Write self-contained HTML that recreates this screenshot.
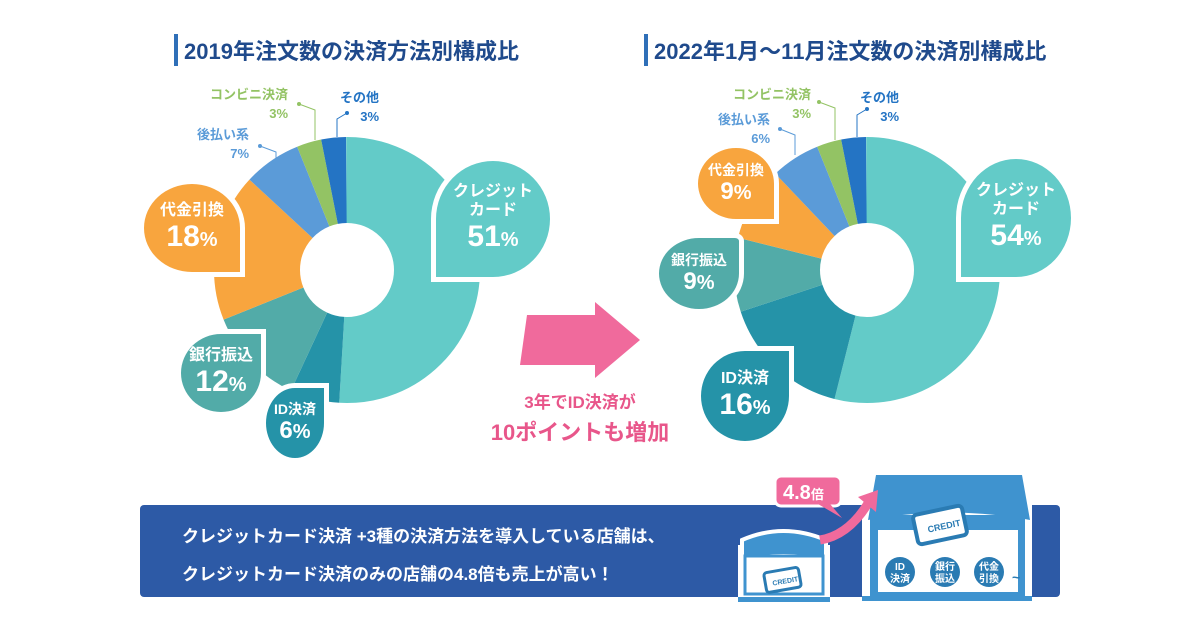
<!DOCTYPE html>
<html><head><meta charset="utf-8"><style>
body{margin:0;width:1200px;height:630px;background:#fff;position:relative;overflow:hidden;font-family:"Liberation Sans","Noto Sans CJK JP",sans-serif;}
.t{position:absolute;font-weight:bold;color:#1f4a8c;font-size:22px;white-space:nowrap;}
.b{position:absolute;border:5px solid #fff;color:#fff;font-weight:bold;text-align:center;box-sizing:border-box;display:flex;flex-direction:column;justify-content:center;align-items:center;line-height:1.15;}
.b .l{font-size:16px}
.b .n{font-size:30px}
.b .n small{font-size:20px}
.s{position:absolute;font-weight:bold;font-size:13px;text-align:right;white-space:nowrap;line-height:1.45}
</style></head><body>
<div class="t" style="left:174px;top:34px;border-left:4px solid #2f6fb8;padding-left:6px;">2019年注文数の決済方法別構成比</div>
<div class="t" style="left:644px;top:34px;border-left:4px solid #2f6fb8;padding-left:6px;">2022年1月～11月注文数の決済別構成比</div>

<svg width="1200" height="630" style="position:absolute;left:0;top:0">
<g transform="rotate(-90 347 270)" fill="none" stroke-width="86">
<circle cx="347" cy="270" r="90" pathLength="100" stroke="#63cbc8" stroke-dasharray="51 49" stroke-dashoffset="0"/>
<circle cx="347" cy="270" r="90" pathLength="100" stroke="#2593a8" stroke-dasharray="6 94" stroke-dashoffset="-51"/>
<circle cx="347" cy="270" r="90" pathLength="100" stroke="#52aba8" stroke-dasharray="12 88" stroke-dashoffset="-57"/>
<circle cx="347" cy="270" r="90" pathLength="100" stroke="#f8a53e" stroke-dasharray="18 82" stroke-dashoffset="-69"/>
<circle cx="347" cy="270" r="90" pathLength="100" stroke="#5b9bd8" stroke-dasharray="7 93" stroke-dashoffset="-87"/>
<circle cx="347" cy="270" r="90" pathLength="100" stroke="#93c364" stroke-dasharray="3 97" stroke-dashoffset="-94"/>
<circle cx="347" cy="270" r="90" pathLength="100" stroke="#2474c4" stroke-dasharray="3 97" stroke-dashoffset="-97"/>
</g>
<g transform="rotate(-90 867 270)" fill="none" stroke-width="86">
<circle cx="867" cy="270" r="90" pathLength="100" stroke="#63cbc8" stroke-dasharray="54 46" stroke-dashoffset="0"/>
<circle cx="867" cy="270" r="90" pathLength="100" stroke="#2593a8" stroke-dasharray="16 84" stroke-dashoffset="-54"/>
<circle cx="867" cy="270" r="90" pathLength="100" stroke="#52aba8" stroke-dasharray="9 91" stroke-dashoffset="-70"/>
<circle cx="867" cy="270" r="90" pathLength="100" stroke="#f8a53e" stroke-dasharray="9 91" stroke-dashoffset="-79"/>
<circle cx="867" cy="270" r="90" pathLength="100" stroke="#5b9bd8" stroke-dasharray="6 94" stroke-dashoffset="-88"/>
<circle cx="867" cy="270" r="90" pathLength="100" stroke="#93c364" stroke-dasharray="3 97" stroke-dashoffset="-94"/>
<circle cx="867" cy="270" r="90" pathLength="100" stroke="#2474c4" stroke-dasharray="3 97" stroke-dashoffset="-97"/>
</g>
<g fill="none" stroke-width="1">
<path d="M299 104 L315 110 L315 140" stroke="#93c364"/><circle cx="299" cy="104" r="2" fill="#93c364"/>
<path d="M347 113 L337 119 L337 137" stroke="#2474c4"/><circle cx="347" cy="113" r="2" fill="#2474c4"/>
<path d="M260 146 L276 152 L276 158" stroke="#5b9bd8"/><circle cx="260" cy="146" r="2" fill="#5b9bd8"/>
<path d="M819 102 L835 108 L835 140" stroke="#93c364"/><circle cx="819" cy="102" r="2" fill="#93c364"/>
<path d="M867 109 L857 115 L857 137" stroke="#2474c4"/><circle cx="867" cy="109" r="2" fill="#2474c4"/>
<path d="M780 129 L795 135 L795 155" stroke="#5b9bd8"/><circle cx="780" cy="129" r="2" fill="#5b9bd8"/>
</g>
<path d="M527 315 L595 315 L595 302 L640 340 L595 378 L595 365 L520 365 Z" fill="#f06a9c"/>
<rect x="140" y="505" width="920" height="92" rx="4" fill="#2d5aa6"/>
<g>
<rect x="738" y="545" width="92" height="55" fill="#fff"/>
<path d="M742 540 Q783 522 826 540 L826 560 Q783 552 742 560 Z" fill="#3f93cf" stroke="#fff" stroke-width="4"/>
<rect x="745" y="556" width="78" height="38" fill="#fff" stroke="#3f93cf" stroke-width="3"/>
<rect x="765" y="570" width="35" height="20" rx="3" fill="#fff" stroke="#2a7bb3" stroke-width="3" transform="rotate(-10 782 580)"/>
<text x="772" y="584" font-size="7" font-weight="bold" fill="#2a7bb3" transform="rotate(-10 782 580)">CREDIT</text>
<rect x="738" y="597" width="92" height="5" fill="#3f93cf"/>
</g>
<g>
<rect x="862" y="470" width="170" height="132" rx="6" fill="#fff"/>
<path d="M876 475 L1022 475 L1030 520 Q950 505 868 520 Z" fill="#3f93cf"/>
<rect x="870" y="515" width="155" height="82" fill="#3f93cf"/>
<rect x="878" y="530" width="140" height="62" fill="#fff"/>
<rect x="915" y="510" width="50" height="30" rx="4" fill="#fff" stroke="#2a7bb3" stroke-width="4" transform="rotate(-12 940 525)"/>
<text x="927" y="530" font-size="9" font-weight="bold" fill="#2a7bb3" transform="rotate(-12 940 525)">CREDIT</text>
<circle cx="900" cy="572" r="15" fill="#2a7bb3"/><circle cx="945" cy="572" r="15" fill="#2a7bb3"/><circle cx="989" cy="572" r="15" fill="#2a7bb3"/>
<text x="900" y="570" font-size="10" font-weight="bold" fill="#fff" text-anchor="middle">ID</text>
<text x="900" y="582" font-size="10" font-weight="bold" fill="#fff" text-anchor="middle">決済</text>
<text x="945" y="570" font-size="10" font-weight="bold" fill="#fff" text-anchor="middle">銀行</text>
<text x="945" y="582" font-size="10" font-weight="bold" fill="#fff" text-anchor="middle">振込</text>
<text x="989" y="570" font-size="10" font-weight="bold" fill="#fff" text-anchor="middle">代金</text>
<text x="989" y="582" font-size="10" font-weight="bold" fill="#fff" text-anchor="middle">引換</text>
<text x="1012" y="582" font-size="14" font-weight="bold" fill="#2a7bb3">~</text>
<rect x="862" y="596" width="170" height="5" fill="#3f93cf"/>
</g>
<path d="M820 540 Q850 535 870 500" stroke="#f06a9c" stroke-width="9" fill="none"/>
<path d="M858 497 L878 490 L876 512 Z" fill="#f06a9c"/>
<rect x="775" y="476" width="66" height="30" rx="6" fill="#f06a9c" stroke="#fff" stroke-width="3"/>
<path d="M830 504 L842 518 L818 504 Z" fill="#f06a9c"/>
<text x="783" y="499" font-size="20" font-weight="bold" fill="#fff">4.8<tspan font-size="13">倍</tspan></text>
</svg>

<div class="s" style="left:210px;top:86px;color:#93c364;">コンビニ決済<br>3%</div>
<div class="s" style="left:340px;top:89px;color:#2474c4;">その他<br>3%</div>
<div class="s" style="left:197px;top:126px;color:#5b9bd8">後払い系<br>7%</div>
<div class="s" style="left:733px;top:86px;color:#93c364;">コンビニ決済<br>3%</div>
<div class="s" style="left:860px;top:89px;color:#2474c4;">その他<br>3%</div>
<div class="s" style="left:718px;top:111px;color:#5b9bd8">後払い系<br>6%</div>

<div class="b" style="left:431px;top:156px;width:124px;height:126px;background:#63cbc8;border-radius:50% 50% 50% 0;"><span class="l">クレジット<br>カード</span><span class="n">51<small>%</small></span></div>
<div class="b" style="left:139px;top:179px;width:106px;height:98px;background:#f8a53e;border-radius:50% 50% 0 50%;"><span class="l">代金引換</span><span class="n">18<small>%</small></span></div>
<div class="b" style="left:176px;top:329px;width:90px;height:88px;background:#52aba8;border-radius:50% 0 50% 50%;"><span class="l">銀行振込</span><span class="n">12<small>%</small></span></div>
<div class="b" style="left:261px;top:383px;width:68px;height:80px;background:#2593a8;border-radius:50% 0 50% 50%;"><span class="l" style="font-size:14px">ID決済</span><span class="n" style="font-size:24px">6<small>%</small></span></div>
<div class="b" style="left:956px;top:154px;width:120px;height:128px;background:#63cbc8;border-radius:50% 50% 50% 0;"><span class="l">クレジット<br>カード</span><span class="n">54<small>%</small></span></div>
<div class="b" style="left:693px;top:143px;width:86px;height:81px;background:#f8a53e;border-radius:50% 50% 0 50%;"><span class="l" style="font-size:14px">代金引換</span><span class="n" style="font-size:24px">9<small>%</small></span></div>
<div class="b" style="left:654px;top:233px;width:90px;height:81px;background:#52aba8;border-radius:50% 10% 50% 50%;"><span class="l" style="font-size:14px">銀行振込</span><span class="n" style="font-size:24px">9<small>%</small></span></div>
<div class="b" style="left:696px;top:346px;width:98px;height:100px;background:#2593a8;border-radius:50% 0 50% 50%;"><span class="l">ID決済</span><span class="n">16<small>%</small></span></div>

<div style="position:absolute;left:470px;top:390px;width:220px;text-align:center;color:#e8568a;font-weight:bold;font-size:17px;line-height:1.5;white-space:nowrap">3年でID決済が<br><span style="font-size:22px">10ポイントも増加</span></div>

<div style="position:absolute;left:182px;top:518px;color:#fff;font-weight:bold;font-size:17px;line-height:38px;white-space:nowrap">クレジットカード決済 +3種の決済方法を導入している店舗は、<br>クレジットカード決済のみの店舗の4.8倍も売上が高い！</div>
</body></html>
